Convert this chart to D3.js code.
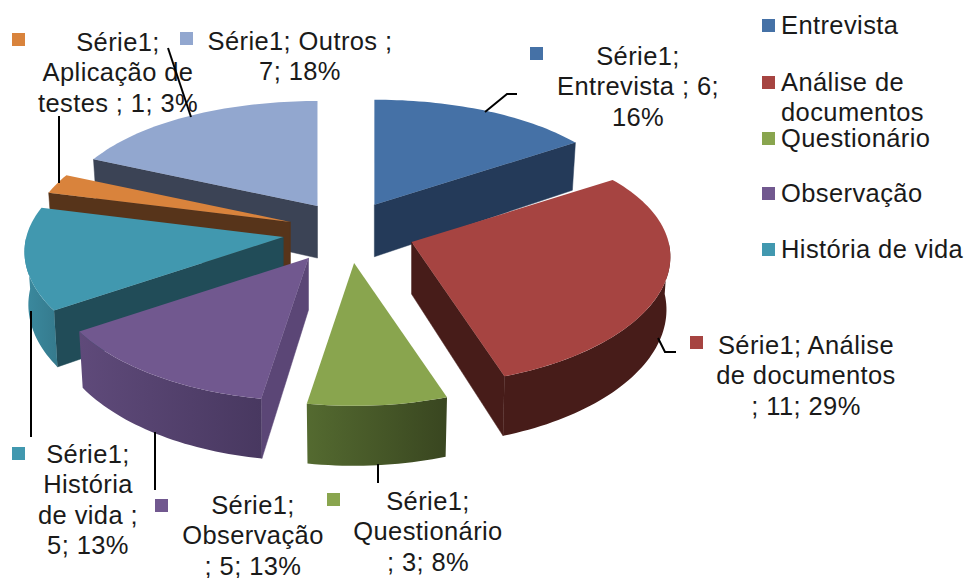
<!DOCTYPE html>
<html>
<head>
<meta charset="utf-8">
<script src="https://cdn.jsdelivr.net/npm/d3@7"></script>
<style>
    html, body { margin: 0; padding: 0; background: #fff; }
    text { font-family: "Liberation Sans", Arial, sans-serif; font-size: 25.5px; letter-spacing: 0.4px; fill: #1a1a1a; }
</style>
</head>
<body>
<div id="chart"></div>
<script>
// Data
const seriesName = "Série1";
const categories = ["Entrevista", "Análise de documentos", "Questionário", "Observação", "História de vida", "Aplicação de testes", "Outros"];
const values = [6, 11, 3, 5, 5, 1, 7];
const percents = ["16%", "29%", "8%", "13%", "13%", "3%", "18%"];
const legendLines = [["Entrevista"], ["Análise de", "documentos"], ["Questionário"], ["Observação"], ["História de vida"]];

// Colours per slice: top, radial wall, outer wall left and right of the gradient
const topColors = ["#4571a6", "#a64441", "#89a54e", "#71588f", "#4198af", "#d9833c", "#92a7cf"];
const wallColors = ["#243a59", "#471c19", "#4a5c2a", "#5b4676", "#214c58", "#57341a", "#3b4355"];
const rimLeft = ["#243a59", "#471c19", "#546a30", "#5f4a7a", "#3b8a9f", "#57341a", "#3b4355"];
const rimRight = ["#243a59", "#471c19", "#394620", "#483860", "#357a8d", "#57341a", "#3b4355"];

// Paint order of the slices, back to front
const paintOrder = [6, 0, 5, 4, 1, 3, 2];

// Label layout: wrapped lines, centre x, first baseline, key square, leader line
const labelLayout = [
    {lines: [`${seriesName};`, "Entrevista ; 6;", "16%"], x: 638, y: 65, key: [530, 47], leader: [[485, 112], [507, 94], [517, 94]]},
    {lines: [`${seriesName}; Análise`, "de documentos", "; 11; 29%"], x: 806, y: 354, key: [690, 336], leader: [[658, 338], [665, 352], [676, 352]]},
    {lines: [`${seriesName};`, "Questionário", "; 3; 8%"], x: 428, y: 510, key: [327, 493], leader: [[378, 464], [378, 483]]},
    {lines: [`${seriesName};`, "Observação", "; 5; 13%"], x: 253, y: 514, key: [155, 499], leader: [[155, 432], [155, 490]]},
    {lines: [`${seriesName};`, "História", "de vida ;", "5; 13%"], x: 88, y: 463, key: [12, 447], leader: [[31, 311], [31, 437]]},
    {lines: [`${seriesName};`, "Aplicação de", "testes ; 1; 3%"], x: 118, y: 51, key: [12, 33], leader: [[59, 116], [59, 183]]},
    {lines: [`${seriesName}; Outros ;`, "7; 18%"], x: 300, y: 50, key: [180, 32], leader: [[168, 48], [191, 117]]}
];

const paramsPie = {
    width: 968,
    height: 578,
    cx: 348,
    cy: 232,
    explodeX: 64,
    explodeY: 31,
    rx: 257,
    ry: 124,
    perspective: 0.153,
    perspectiveX: 0.12,
    depth: 52,
    bottomShrink: 0.985
};

const paramsLegend = {
    keyX: 762,
    textX: 781,
    key: 13,
    rowY: [34, 91, 147, 202, 258],
    lineHeight: 30.3
};

const svg = d3.select("#chart")
    .append("svg")
    .attr("width", paramsPie.width)
    .attr("height", paramsPie.height)
    .attr("viewBox", `0 0 ${paramsPie.width} ${paramsPie.height}`);

const defs = svg.append("defs");
const slicesG = svg.append("g");
const lineGen = d3.line();

const arcs = d3.pie().sort(null)(values);

// Disc point at angle a (0 at the top, clockwise), lifted down by depth when bottom is true
function project(d, a, radius, bottom) {
    const mid = (d.startAngle + d.endAngle) / 2;
    const ox = paramsPie.cx + paramsPie.explodeX * Math.sin(mid) * (1 - paramsPie.perspective * Math.cos(mid));
    const oy = paramsPie.cy - paramsPie.explodeY * Math.cos(mid);
    const u = radius * Math.sin(a);
    const v = -radius * Math.cos(a);
    const w = 1 + paramsPie.perspective * v;
    const wx = 1 + paramsPie.perspectiveX * v;
    const shrink = bottom ? paramsPie.bottomShrink : 1;
    return [
        ox + paramsPie.rx * u * wx * shrink,
        oy + paramsPie.ry * v * w + (bottom ? paramsPie.depth * w : 0)
    ];
}

function arcAngles(a0, a1) {
    const n = Math.max(2, Math.ceil((a1 - a0) * 40));
    return d3.range(n + 1).map(i => a0 + (a1 - a0) * i / n);
}

function drawWall(g, d, a, fill) {
    const pts = [project(d, 0, 0, false), project(d, a, 1, false), project(d, a, 1, true), project(d, 0, 0, true)];
    g.append("path").attr("d", lineGen(pts) + "Z").attr("fill", fill).attr("stroke", fill).attr("stroke-width", 0.5);
}

paintOrder.forEach(function(i) {
    const d = arcs[i];
    const g = slicesG.append("g").attr("class", "slice");
    const apex = project(d, 0, 0, false);

    // radial walls, only those turned to the viewer
    if (project(d, d.startAngle, 1, false)[0] < apex[0]) drawWall(g, d, d.startAngle, wallColors[i]);
    if (project(d, d.endAngle, 1, false)[0] > apex[0]) drawWall(g, d, d.endAngle, wallColors[i]);

    // outer wall, front half only
    const a0 = Math.max(d.startAngle, Math.PI / 2);
    const a1 = Math.min(d.endAngle, Math.PI * 1.5);
    if (a1 > a0) {
        const grad = defs.append("linearGradient").attr("id", `rim${i}`);
        grad.append("stop").attr("offset", "0%").attr("stop-color", rimLeft[i]);
        grad.append("stop").attr("offset", "100%").attr("stop-color", rimRight[i]);
        const angles = arcAngles(a0, a1);
        const pts = angles.map(a => project(d, a, 1, false))
            .concat(angles.slice().reverse().map(a => project(d, a, 1, true)));
        g.append("path").attr("d", lineGen(pts) + "Z").attr("fill", `url(#rim${i})`);
    }

    // top face
    const top = [apex].concat(arcAngles(d.startAngle, d.endAngle).map(a => project(d, a, 1, false)));
    g.append("path").attr("d", lineGen(top) + "Z").attr("fill", topColors[i]);
});

// Data labels
const labels = svg.append("g").selectAll("g")
    .data(labelLayout)
    .join("g");

labels.append("path")
    .attr("d", d => lineGen(d.leader))
    .attr("fill", "none")
    .attr("stroke", "#000")
    .attr("stroke-width", 2);

labels.append("rect")
    .attr("x", d => d.key[0])
    .attr("y", d => d.key[1])
    .attr("width", paramsLegend.key)
    .attr("height", paramsLegend.key)
    .attr("fill", (d, i) => topColors[i]);

labels.each(function(d) {
    const t = d3.select(this).append("text").attr("text-anchor", "middle");
    d.lines.forEach(function(line, j) {
        t.append("tspan").attr("x", d.x).attr("y", d.y + j * paramsLegend.lineHeight).text(line);
    });
});

// Legend
const legend = svg.append("g").selectAll("g")
    .data(legendLines)
    .join("g");

legend.append("rect")
    .attr("x", paramsLegend.keyX)
    .attr("y", (d, i) => paramsLegend.rowY[i] - 15)
    .attr("width", paramsLegend.key)
    .attr("height", paramsLegend.key)
    .attr("fill", (d, i) => topColors[i]);

legend.each(function(d, i) {
    const t = d3.select(this).append("text");
    d.forEach(function(line, j) {
        t.append("tspan").attr("x", paramsLegend.textX).attr("y", paramsLegend.rowY[i] + j * paramsLegend.lineHeight).text(line);
    });
});
</script>
</body>
</html>
